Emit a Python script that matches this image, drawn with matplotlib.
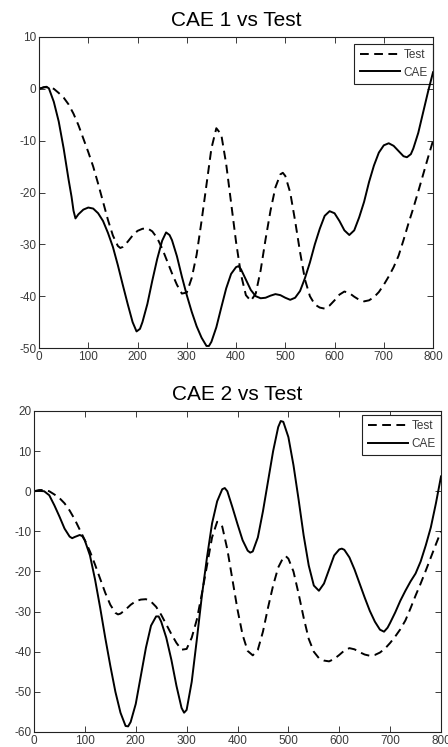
import matplotlib
matplotlib.use("Agg")
import matplotlib.pyplot as plt

plt.rcParams['font.family'] = ['Liberation Sans', 'DejaVu Sans']
plt.rcParams['axes.unicode_minus'] = False

# ---- data ----
test_x = [0, 10, 20, 30, 40, 50, 60, 70, 80, 90, 100, 110, 120, 130, 140, 150, 160, 165,
          170, 180, 190, 200, 210, 220, 230, 240, 250, 260, 270, 280, 290, 300, 310, 320,
          330, 340, 350, 360, 370, 380, 390, 400, 410, 420, 430, 440, 450, 460, 470, 480,
          490, 495, 500, 510, 520, 530, 540, 550, 560, 570, 580, 590, 600, 610, 620, 630,
          640, 650, 660, 670, 680, 690, 700, 710, 720, 730, 740, 750, 760, 770, 780, 790, 800]
test_y = [0, 0.3, 0.3, 0, -0.8, -1.7, -3, -4.8, -7, -9.6, -12.2, -15, -18.3, -21.8, -25.3,
          -28.3, -30.3, -30.7, -30.5, -29.5, -28.3, -27.4, -27, -26.9, -27.5, -28.8, -30.8,
          -33.2, -35.6, -37.8, -39.5, -39.3, -36.5, -32, -25.5, -18.5, -11.5, -7.6, -8.8,
          -14.5, -22, -29.5, -35.8, -39.8, -40.9, -39.5, -35, -29, -23.5, -19, -16.5, -16.2,
          -16.8, -20, -25.5, -31.5, -36.8, -40, -41.6, -42.2, -42.4, -41.8, -40.8, -39.7,
          -39.1, -39.4, -40.1, -40.7, -41, -40.8, -40.2, -39.2, -37.8, -36.2, -34.4, -32.2,
          -29.2, -26, -23, -19.8, -16.5, -13.2, -10]

cae1_x = [0, 10, 15, 20, 30, 40, 50, 60, 66, 70, 74, 80, 90, 100, 110, 120, 130, 140, 150,
          160, 170, 180, 190, 198, 205, 210, 220, 230, 240, 250, 258, 265, 270, 280, 290,
          300, 310, 320, 330, 340, 345, 350, 360, 370, 380, 390, 400, 405, 410, 420, 430,
          440, 450, 460, 470, 480, 490, 500, 510, 520, 530, 540, 550, 560, 570, 580, 590,
          600, 610, 620, 630, 640, 650, 660, 670, 680, 690, 700, 710, 720, 730, 740, 747,
          755, 760, 770, 780, 790, 800]
cae1_y = [0, 0.3, 0.4, 0.1, -2.5, -6.3, -11.5, -17.5, -20.8, -23.5, -25, -24.2, -23.3,
          -22.9, -23.1, -24, -25.5, -27.8, -30.5, -34, -37.8, -41.5, -45, -46.8, -46.3, -45,
          -41.5, -37, -32.8, -29.3, -27.7, -28.2, -29.2, -32.3, -36.2, -39.8, -43, -45.8,
          -48, -49.6, -49.6, -48.8, -46, -42.2, -38.5, -35.7, -34.4, -34.2, -34.8, -36.8,
          -38.8, -40, -40.4, -40.3, -39.9, -39.6, -39.8, -40.3, -40.7, -40.3, -39, -36.5,
          -33.5, -30, -27, -24.5, -23.6, -24, -25.5, -27.3, -28.2, -27.3, -24.8, -21.8,
          -18, -14.8, -12.3, -10.9, -10.5, -11, -12, -13, -13.2, -12.6, -11.5, -8.5, -4.5,
          -0.5, 3.2]

cae2_x = [0, 10, 20, 30, 40, 50, 60, 70, 75, 80, 90, 95, 100, 110, 120, 130, 140, 150, 160,
          170, 180, 185, 190, 200, 210, 220, 230, 240, 245, 250, 260, 270, 280, 290, 295,
          300, 310, 320, 330, 340, 350, 360, 370, 375, 380, 390, 400, 410, 420, 425, 430,
          440, 450, 460, 470, 480, 485, 490, 500, 510, 520, 530, 540, 550, 560, 570, 580,
          590, 600, 605, 610, 620, 630, 640, 650, 660, 670, 680, 688, 695, 700, 710, 720,
          730, 740, 750, 760, 770, 780, 790, 800]
cae2_y = [0, 0.1, 0, -1, -3.5, -6.3, -9.3, -11.3, -11.7, -11.4, -10.9, -11.2, -12.3, -16,
          -22, -29, -36.5, -43.5, -50, -55.2, -58.5, -58.6, -57.5, -53, -46, -39, -33.5,
          -31.2, -31.2, -32.5, -36.5, -42, -48.5, -54, -55.2, -54.5, -47.5, -37, -26,
          -16.5, -8, -2.5, 0.5, 0.8, 0, -4, -8.2, -12.2, -14.8, -15.3, -15, -11.5, -5, 2.5,
          10, 16, 17.5, 17.3, 13.5, 6.5, -2, -11, -18.5, -23.5, -24.8, -23, -19.5, -16,
          -14.5, -14.3, -14.6, -16.5, -19.5, -23, -26.5, -29.8, -32.5, -34.5, -35, -34,
          -32.8, -30.2, -27.3, -24.8, -22.5, -20.5, -17.5, -13.5, -9, -3, 3.7]

x_ticks = [0, 100, 200, 300, 400, 500, 600, 700, 800]
y_ticks1 = [-50, -40, -30, -20, -10, 0, 10]
y_ticks2 = [-60, -50, -40, -30, -20, -10, 0, 10, 20]

fig = plt.figure(figsize=(4.48, 7.47), dpi=100)
ax1 = fig.add_axes([0.0871, 0.5341, 0.8795, 0.4164])
ax2 = fig.add_axes([0.0759, 0.0201, 0.9085, 0.4297])

tick_col = '#3a3a3a'


def style(ax, yt, ylim, title, leg_top):
    ax.set_xlim(0, 800)
    ax.set_ylim(*ylim)
    ax.set_xticks(x_ticks)
    ax.set_yticks(yt)
    ax.tick_params(direction='in', top=True, right=True, length=4, width=0.7,
                   labelsize=8.5, colors=tick_col, pad=2)
    for s in ax.spines.values():
        s.set_linewidth(0.8)
        s.set_color('#222222')
    ax.set_title(title, fontsize=15, pad=8)
    leg = ax.legend(loc='upper right', bbox_to_anchor=(1.0, leg_top), borderaxespad=0,
                    fancybox=False, edgecolor='#222222', framealpha=1, fontsize=8.5,
                    handlelength=3.4, handletextpad=0.3, borderpad=0.45, labelspacing=0.45)
    leg.get_frame().set_linewidth(0.8)
    leg.set_zorder(1.5)
    for t in leg.get_texts():
        t.set_color(tick_col)


dash = (0, (4.5, 2.8))
ax1.plot(test_x, test_y, color='black', lw=1.4, linestyle=dash, label='Test', zorder=2)
ax1.plot(cae1_x, cae1_y, color='black', lw=1.4, label='CAE', zorder=2)
style(ax1, y_ticks1, (-50, 10), 'CAE 1 vs Test', 0.9775)

ax2.plot(test_x, test_y, color='black', lw=1.4, linestyle=dash, label='Test', zorder=2)
ax2.plot(cae2_x, cae2_y, color='black', lw=1.4, label='CAE', zorder=2)
style(ax2, y_ticks2, (-60, 20), 'CAE 2 vs Test', 0.9875)

fig.savefig('out.png', dpi=100)
